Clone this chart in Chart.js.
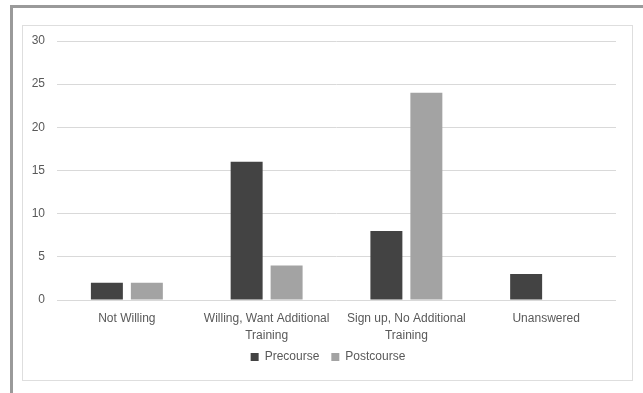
<!DOCTYPE html>
<html>
<head>
<meta charset="utf-8">
<script src="https://cdn.jsdelivr.net/npm/chart.js@4"></script>
<style>
  html, body { margin: 0; padding: 0; background: #ffffff; }
  body { width: 643px; height: 393px; position: relative; overflow: hidden; }
  #frame { position: absolute; left: 10px; top: 5px; right: -10px; bottom: -10px;
           border-top: 3px solid #9a9a9a; border-left: 3px solid #9a9a9a; }
  #panel { position: absolute; left: 22px; top: 25px; width: 609px; height: 354px;
           border: 1px solid #dedede; }
  #chart { position: absolute; left: 0; top: 0; }
</style>
</head>
<body>
<div id="frame"></div>
<div id="panel"></div>
<canvas id="chart" width="643" height="393"></canvas>
<script>
// Responses per category, before and after the course
const categories = [
  "Not Willing",
  ["Willing, Want Additional", "Training"],
  ["Sign up, No Additional", "Training"],
  "Unanswered"
];
const precourse = [2, 16, 8, 3];
const postcourse = [2, 4, 24, 0];
const yTicks = [0, 5, 10, 15, 20, 25, 30];

const textColor = "#595959";
const fontFamily = "'Liberation Sans', Arial, sans-serif";

// Centre the legend under the bordered panel and pull it closer to the axis labels
const legendShift = {
  id: "legendShift",
  beforeDraw(chart) {
    const lg = chart.legend;
    if (lg && !lg.$shifted) {
      lg.left += 20;
      lg.right += 20;
      lg.top -= 7;
      lg.bottom -= 7;
      lg.$shifted = true;
    }
  }
};

new Chart(document.getElementById("chart"), {
  type: "bar",
  data: {
    labels: categories,
    datasets: [
      { label: "Precourse", data: precourse, backgroundColor: "#434343" },
      { label: "Postcourse", data: postcourse, backgroundColor: "#a3a3a3" }
    ]
  },
  plugins: [legendShift],
  options: {
    responsive: false,
    animation: false,
    datasets: { bar: { categoryPercentage: 0.572, barPercentage: 0.8 } },
    layout: { padding: { left: 0, right: 27, top: 41, bottom: 13 } },
    plugins: {
      tooltip: { enabled: false },
      legend: {
        position: "bottom",
        labels: {
          color: textColor,
          font: { family: fontFamily, size: 12 },
          boxWidth: 8,
          boxHeight: 8,
          padding: 12
        }
      }
    },
    scales: {
      x: {
        grid: { display: false, drawTicks: false },
        border: { display: false },
        ticks: {
          color: textColor,
          font: { family: fontFamily, size: 12, lineHeight: 1.45 },
          padding: 10,
          maxRotation: 0,
          autoSkip: false
        },
        afterFit(scale) { scale.height = 46; }
      },
      y: {
        min: 0,
        max: 30,
        afterBuildTicks(scale) { scale.ticks = yTicks.map(v => ({ value: v })); },
        grid: { color: "#d9d9d9", drawTicks: false },
        border: { display: false },
        ticks: {
          color: textColor,
          font: { family: fontFamily, size: 12 },
          padding: 12
        },
        afterFit(scale) { scale.width = 57; }
      }
    }
  }
});
</script>
</body>
</html>
